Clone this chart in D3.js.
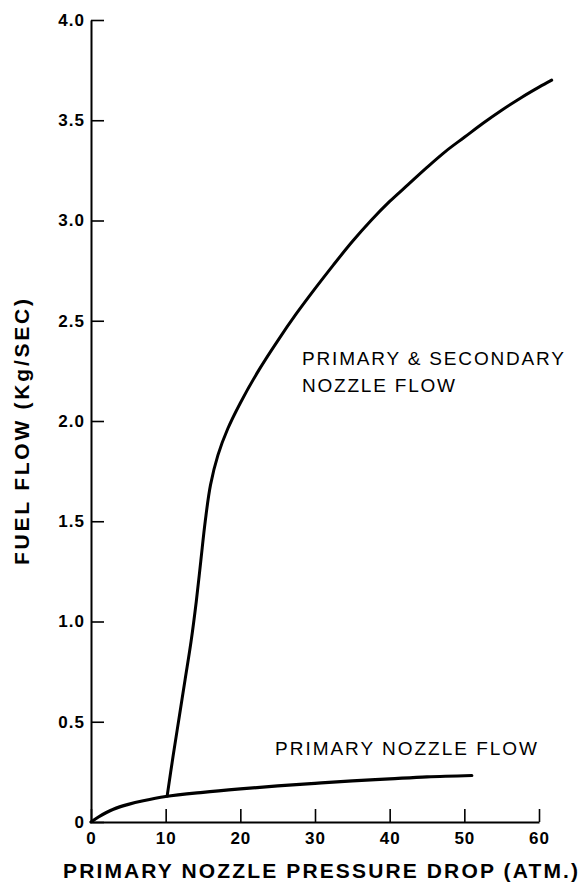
<!DOCTYPE html>
<html>
<head>
<meta charset="utf-8">
<script src="https://cdn.jsdelivr.net/npm/d3@7"></script>
<style>
  body { margin: 0; background: #fff; }
  svg { display: block; }
  text { font-family: "Liberation Sans", Arial, sans-serif; fill: #000; }
</style>
</head>
<body>
<svg id="chart"></svg>
<script>
// ticks
const xTicks = [0, 10, 20, 30, 40, 50, 60];
const yTicks = [0, 0.5, 1.0, 1.5, 2.0, 2.5, 3.0, 3.5, 4.0];

// primary nozzle flow (atm, kg/s)
const primaryX = [0, 1, 2, 3, 5, 7, 10, 15, 20, 25, 30, 35, 40, 45, 51];
const primaryY = [0, 0.025, 0.046, 0.064, 0.088, 0.106, 0.127, 0.148, 0.165, 0.18, 0.193, 0.205, 0.215, 0.225, 0.232];

// primary & secondary nozzle flow
const secondaryX = [10.2, 11.0, 11.8, 12.6, 13.4, 14.1, 14.7, 15.3, 16.0, 17.0, 18.3, 20.0, 22.5, 25, 27.5, 30, 32.5, 35, 37.5, 40, 42.5, 45, 47.5, 50, 52.5, 55, 57.5, 60, 61.7];
const secondaryY = [0.13, 0.33, 0.52, 0.71, 0.90, 1.10, 1.30, 1.50, 1.68, 1.83, 1.96, 2.09, 2.255, 2.40, 2.535, 2.66, 2.78, 2.895, 3.0, 3.095, 3.18, 3.265, 3.345, 3.415, 3.485, 3.55, 3.61, 3.665, 3.70];

const W = 584, H = 887;
const svg = d3.select("#chart").attr("width", W).attr("height", H);

const x = d3.scaleLinear().domain([0, 60]).range([91, 539]);
const y = d3.scaleLinear().domain([0, 4]).range([822, 20]);

// X axis
svg.append("g")
    .attr("transform", `translate(0,${y(0)})`)
    .call(d3.axisBottom(x).tickValues(xTicks).tickSizeInner(-13).tickSizeOuter(0).tickPadding(10))
    .call(g => g.select(".domain").attr("stroke-width", 2))
    .call(g => g.selectAll(".tick line").attr("stroke-width", 1.6))
    .call(g => g.selectAll(".tick text")
        .style("font-size", "17px").style("font-weight", "bold")
        .style("letter-spacing", "1px")
        .attr("font-family", null));

// Y axis
svg.append("g")
    .attr("transform", `translate(${x(0)},0)`)
    .call(d3.axisLeft(y).tickValues(yTicks).tickSizeInner(-13).tickSizeOuter(0).tickPadding(6)
        .tickFormat(d => d === 0 ? "0" : d3.format(".1f")(d)))
    .call(g => g.select(".domain").attr("stroke-width", 2))
    .call(g => g.selectAll(".tick line").attr("stroke-width", 1.6))
    .call(g => g.selectAll(".tick text")
        .style("font-size", "17px").style("font-weight", "bold")
        .style("letter-spacing", "1px")
        .attr("font-family", null));

// curves
const line = d3.line()
    .x(d => x(d[0]))
    .y(d => y(d[1]))
    .curve(d3.curveCatmullRom.alpha(0.5));

svg.append("path")
    .datum(d3.zip(primaryX, primaryY))
    .attr("fill", "none")
    .attr("stroke", "#000")
    .attr("stroke-width", 3.2)
    .attr("stroke-linecap", "round")
    .attr("d", line);

svg.append("path")
    .datum(d3.zip(secondaryX, secondaryY))
    .attr("fill", "none")
    .attr("stroke", "#000")
    .attr("stroke-width", 3)
    .attr("stroke-linecap", "round")
    .attr("d", line);

// labels on the curves
const lbl = (t, px, py, len) => svg.append("text")
    .attr("x", px).attr("y", py)
    .attr("textLength", len).attr("lengthAdjust", "spacing")
    .style("font-size", "19px")
    .text(t);

lbl("PRIMARY & SECONDARY", 302, 365, 262);
lbl("NOZZLE FLOW", 302, 392, 153);
lbl("PRIMARY NOZZLE FLOW", 275, 755, 262);

// axis titles
svg.append("text")
    .attr("x", 63).attr("y", 878)
    .attr("textLength", 515).attr("lengthAdjust", "spacing")
    .style("font-size", "21px").style("font-weight", "bold")
    .text("PRIMARY NOZZLE PRESSURE DROP (ATM.)");

svg.append("text")
    .attr("transform", "translate(29,432) rotate(-90)")
    .attr("text-anchor", "middle")
    .attr("textLength", 266).attr("lengthAdjust", "spacing")
    .style("font-size", "21px").style("font-weight", "bold")
    .text("FUEL FLOW (Kg/SEC)");
</script>
</body>
</html>
